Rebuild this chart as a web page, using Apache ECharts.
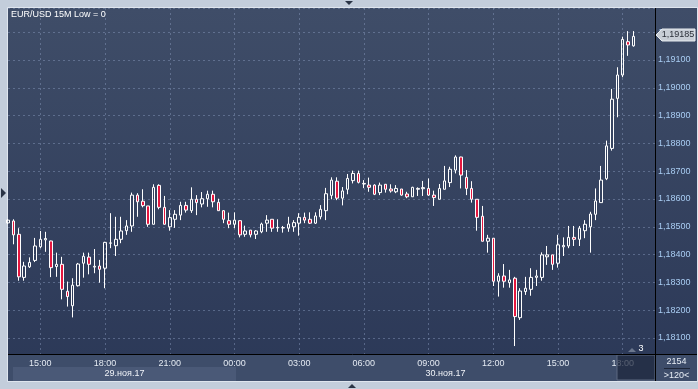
<!DOCTYPE html>
<html><head><meta charset="utf-8">
<script src="https://cdn.jsdelivr.net/npm/echarts@6/dist/echarts.min.js"></script>
<style>html,body{margin:0;padding:0;overflow:hidden;background:#c3cddb}#chart{width:698px;height:389px}</style>
</head><body><div id="chart"></div><script>
const chartTitle = 'EUR/USD 15M Low = 0';
const startMinutes = 13 * 60 + 30;   // first slot 13:30, 15-minute candles
const slotCount = 121;
const dateLabels = ['29.ноя.17', '30.ноя.17'];
const lastPrice = 1.19185;
const barCountText = '2154';
const zoomText = '>120<';

const opens = [1.18514,1.18521,1.18473,1.18318,1.18356,1.18379,1.18428,1.18453,1.18449,1.18357,
1.18365,1.18268,1.18216,1.18288,1.18369,1.18391,1.18355,1.18359,1.18351,1.18441,
1.18432,1.18455,1.18486,1.18503,1.18614,1.18592,1.18575,1.18509,1.18649,1.18570,
1.18500,1.18527,1.18542,1.18577,1.18558,1.18599,1.18582,1.18601,1.18617,1.18588,
1.18558,1.18522,1.18509,1.18522,1.18473,1.18488,1.18473,1.18482,1.18513,1.18527,
1.18496,1.18496,1.18495,1.18500,1.18513,1.18534,1.18527,1.18513,1.18536,1.18558,
1.18613,1.18664,1.18603,1.18635,1.18666,1.18692,1.18654,1.18650,1.18650,1.18623,
1.18653,1.18636,1.18626,1.18636,1.18618,1.18608,1.18635,1.18637,1.18638,1.18614,
1.18599,1.18635,1.18659,1.18704,1.18751,1.18678,1.18638,1.18599,1.18538,1.18448,
1.18459,1.18304,1.18323,1.18299,1.18315,1.18173,1.18267,1.18275,1.18318,1.18318,
1.18392,1.18399,1.18369,1.18428,1.18431,1.18462,1.18455,1.18486,1.18500,1.18545,
1.18587,1.18673,1.18782,1.18962,1.19046,1.19166,1.19151];
const closes = [1.18524,1.18471,1.18320,1.18359,1.18372,1.18431,1.18455,1.18458,1.18353,1.18365,
1.18275,1.18249,1.18290,1.18366,1.18394,1.18365,1.18358,1.18347,1.18444,1.18442,
1.18455,1.18485,1.18503,1.18614,1.18590,1.18576,1.18509,1.18642,1.18570,1.18509,
1.18533,1.18545,1.18577,1.18560,1.18599,1.18587,1.18601,1.18617,1.18590,1.18558,
1.18527,1.18509,1.18524,1.18471,1.18485,1.18471,1.18485,1.18510,1.18524,1.18495,
1.18498,1.18497,1.18510,1.18515,1.18534,1.18524,1.18513,1.18539,1.18563,1.18619,
1.18668,1.18603,1.18629,1.18674,1.18692,1.18660,1.18656,1.18642,1.18617,1.18650,
1.18635,1.18629,1.18638,1.18614,1.18608,1.18642,1.18638,1.18641,1.18614,1.18605,
1.18638,1.18665,1.18707,1.18751,1.18686,1.18638,1.18599,1.18534,1.18448,1.18459,
1.18304,1.18323,1.18304,1.18309,1.18177,1.18269,1.18279,1.18318,1.18323,1.18399,
1.18399,1.18365,1.18435,1.18433,1.18462,1.18455,1.18495,1.18509,1.18546,1.18593,
1.18668,1.18791,1.18959,1.19046,1.19174,1.19154,1.19185];
const lows = [1.18510,1.18437,1.18306,1.18306,1.18352,1.18373,1.18423,1.18410,1.18319,1.18320,
1.18239,1.18213,1.18174,1.18285,1.18317,1.18329,1.18333,1.18299,1.18279,1.18423,
1.18395,1.18441,1.18471,1.18482,1.18536,1.18570,1.18500,1.18509,1.18563,1.18509,
1.18486,1.18496,1.18524,1.18551,1.18550,1.18542,1.18570,1.18572,1.18570,1.18557,
1.18513,1.18495,1.18495,1.18462,1.18464,1.18462,1.18456,1.18477,1.18482,1.18482,
1.18482,1.18479,1.18482,1.18482,1.18468,1.18513,1.18510,1.18510,1.18527,1.18524,
1.18599,1.18596,1.18577,1.18617,1.18656,1.18656,1.18639,1.18626,1.18614,1.18614,
1.18623,1.18623,1.18621,1.18612,1.18603,1.18608,1.18611,1.18611,1.18611,1.18575,
1.18599,1.18635,1.18643,1.18692,1.18638,1.18614,1.18587,1.18486,1.18448,1.18407,
1.18287,1.18249,1.18281,1.18281,1.18071,1.18165,1.18255,1.18252,1.18287,1.18306,
1.18363,1.18345,1.18353,1.18395,1.18423,1.18431,1.18431,1.18459,1.18407,1.18524,
1.18587,1.18668,1.18774,1.18894,1.19038,1.19115,1.19148];
const highs = [1.18528,1.18527,1.18495,1.18374,1.18390,1.18460,1.18485,1.18482,1.18450,1.18407,
1.18392,1.18303,1.18315,1.18370,1.18407,1.18407,1.18420,1.18381,1.18446,1.18549,
1.18536,1.18536,1.18524,1.18623,1.18621,1.18635,1.18575,1.18653,1.18653,1.18611,
1.18560,1.18560,1.18590,1.18590,1.18642,1.18614,1.18625,1.18630,1.18630,1.18601,
1.18560,1.18551,1.18552,1.18522,1.18504,1.18488,1.18488,1.18515,1.18542,1.18527,
1.18527,1.18503,1.18536,1.18524,1.18549,1.18551,1.18552,1.18552,1.18578,1.18640,
1.18678,1.18678,1.18643,1.18690,1.18702,1.18702,1.18668,1.18677,1.18653,1.18659,
1.18654,1.18653,1.18650,1.18636,1.18626,1.18644,1.18642,1.18665,1.18674,1.18630,
1.18654,1.18719,1.18716,1.18757,1.18752,1.18704,1.18664,1.18599,1.18575,1.18471,
1.18459,1.18333,1.18366,1.18345,1.18320,1.18279,1.18320,1.18351,1.18345,1.18408,
1.18431,1.18399,1.18471,1.18462,1.18503,1.18503,1.18503,1.18524,1.18554,1.18638,
1.18719,1.18810,1.18996,1.19074,1.19184,1.19204,1.19204];

const categories = [];
for (let k = 0; k < slotCount; k++) {
  const m = startMinutes + 15 * k;
  const h = Math.floor(m / 60) % 24, mm = m % 60;
  categories.push(String(h).padStart(2, '0') + ':' + String(mm).padStart(2, '0'));
}
const candles = opens.map((o, i) => [o, closes[i], lows[i], highs[i]]);
const isTick = (idx) => { const c = categories[idx]; return c.endsWith(':00') && (+c.slice(0, 2)) % 3 === 0; };

const FONT = 'Liberation Sans, Arial, sans-serif';
const grad = (a, b) => new echarts.graphic.LinearGradient(0, 0, 0, 1, [{offset: 0, color: a}, {offset: 1, color: b}]);

const chart = echarts.init(document.getElementById('chart'), null, {renderer: 'canvas'});
chart.setOption({
  animation: false,
  backgroundColor: '#c3cddb',
  grid: {left: 8, right: 43, top: 8, bottom: 35, containLabel: false},
  xAxis: {
    type: 'category', data: categories, boundaryGap: false,
    axisLine: {show: false}, axisTick: {show: false},
    axisLabel: {interval: (i) => isTick(i), color: '#e4eaf2', fontSize: 9, fontFamily: FONT, margin: 5},
    splitLine: {show: true, interval: (i) => isTick(i), lineStyle: {color: 'rgba(140,158,192,0.45)', type: [2, 3], width: 1}}
  },
  yAxis: {
    type: 'value', position: 'right', scale: true,
    min: 1.180424, max: 1.192871, splitNumber: 12,
    axisLine: {show: false}, axisTick: {show: false},
    axisLabel: {color: '#a9cdf3', fontSize: 9, fontFamily: FONT, margin: 3, align: 'left',
      showMinLabel: false, showMaxLabel: false,
      formatter: (v) => v.toFixed(5).replace('.', ',')},
    splitLine: {show: true, lineStyle: {color: 'rgba(140,158,192,0.45)', type: [2, 3], width: 1}}
  },
  series: [{
    type: 'candlestick', data: candles, barWidth: 3, clip: true,
    itemStyle: {color: 'rgba(0,0,0,0)', color0: '#e5173f', borderColor: '#ffffff', borderColor0: '#ffffff', borderWidth: 1}
  }],
  graphic: [
    {type: 'rect', z: -100, shape: {x: 8, y: 8, width: 689, height: 373}, style: {fill: grad('#3f4d68', '#2b3857')}},
    {type: 'rect', z: -99, shape: {x: 7.5, y: 7.5, width: 690, height: 374}, style: {fill: null, stroke: '#dfe5ee', lineWidth: 1}},
    {type: 'rect', z: -90, shape: {x: 8, y: 354, width: 689, height: 27}, style: {fill: '#3e4d6a'}},
    {type: 'rect', z: -89, shape: {x: 13, y: 367, width: 223, height: 14}, style: {fill: '#4a5977'}},
    {type: 'text', z: 50, style: {x: 124.5, y: 374, text: dateLabels[0], fill: '#f0f3f8', font: '9px ' + FONT, align: 'center', verticalAlign: 'middle'}},
    {type: 'text', z: 50, style: {x: 445.5, y: 374, text: dateLabels[1], fill: '#f0f3f8', font: '9px ' + FONT, align: 'center', verticalAlign: 'middle'}},
    {type: 'rect', z: 60, shape: {x: 617, y: 355, width: 38, height: 25}, style: {fill: 'rgba(28,38,60,0.72)', stroke: '#5c6980', lineWidth: 1}},
    {type: 'polygon', z: 60, shape: {points: [[628, 352], [632, 348], [636, 352]]}, style: {fill: '#6b778d'}},
    {type: 'text', z: 60, style: {x: 641, y: 349, text: '3', fill: '#ffffff', font: '9px ' + FONT, align: 'center', verticalAlign: 'middle'}},
    {type: 'line', z: 70, shape: {x1: 655.5, y1: 8, x2: 655.5, y2: 381}, style: {stroke: '#000000', lineWidth: 1}},
    {type: 'line', z: 70, shape: {x1: 8, y1: 354.5, x2: 697, y2: 354.5}, style: {stroke: '#000000', lineWidth: 1}},
    {type: 'text', z: 70, style: {x: 676.5, y: 362, text: barCountText, fill: '#e8eef6', font: '9px ' + FONT, align: 'center', verticalAlign: 'middle'}},
    {type: 'line', z: 70, shape: {x1: 664, y1: 368.5, x2: 690, y2: 368.5}, style: {stroke: '#1e2638', lineWidth: 1}},
    {type: 'text', z: 70, style: {x: 676.5, y: 376, text: zoomText, fill: '#e8eef6', font: '9px ' + FONT, align: 'center', verticalAlign: 'middle'}},
    {type: 'text', z: 70, style: {x: 11, y: 15, text: chartTitle, fill: '#ffffff', font: '9px ' + FONT, align: 'left', verticalAlign: 'middle'}},
    {type: 'polygon', z: 80, shape: {points: [[656, 35], [662, 29], [695, 29], [695, 41], [662, 41]]}, style: {fill: '#c8ced6', stroke: '#e8ecf0', lineWidth: 1}},
    {type: 'text', z: 81, style: {x: 678, y: 35, text: lastPrice.toFixed(5).replace('.', ','), fill: '#2a2f38', font: '9px ' + FONT, align: 'center', verticalAlign: 'middle'}},
    {type: 'polygon', z: 90, shape: {points: [[345, 1], [353, 1], [349, 5]]}, style: {fill: '#2a3446'}},
    {type: 'polygon', z: 90, shape: {points: [[348, 388], [356, 388], [352, 384]]}, style: {fill: '#2a3446'}},
    {type: 'polygon', z: 90, shape: {points: [[1, 188], [1, 198], [6, 193]]}, style: {fill: '#2a3446'}}
  ]
});
</script></body></html>
